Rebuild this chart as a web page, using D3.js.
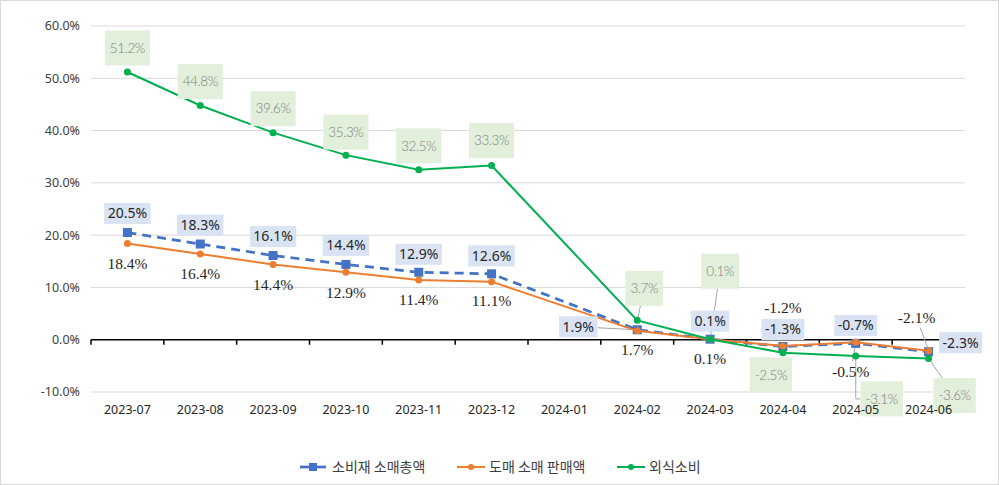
<!DOCTYPE html>
<html><head><meta charset="utf-8">
<script src="https://cdn.jsdelivr.net/npm/d3@7"></script>
<style>
html,body{margin:0;padding:0;background:#fff;}
svg{display:block;}
</style></head>
<body>
<svg id="chart" width="999" height="485"></svg>
<script>
// ---- data ----
const categories = ['2023-07','2023-08','2023-09','2023-10','2023-11','2023-12','2024-01','2024-02','2024-03','2024-04','2024-05','2024-06'];
const retailValues = [20.5,18.3,16.1,14.4,12.9,12.6,null,1.9,0.1,-1.3,-0.7,-2.3];      // 소비재 소매총액
const wholesaleValues = [18.4,16.4,14.4,12.9,11.4,11.1,null,1.7,0.1,-1.2,-0.5,-2.1];   // 도매 소매 판매액
const diningValues = [51.2,44.8,39.6,35.3,32.5,33.3,null,3.7,0.1,-2.5,-3.1,-3.6];      // 외식소비
const seriesNames = ['소비재 소매총액','도매 소매 판매액','외식소비'];
const yTicks = [-10,0,10,20,30,40,50,60];

// ---- label placement (layout only) ----
const retailLabelOffsets = [[0,-19],[0,-19],[0,-19],[0,-19],[0,-18],[0,-18],null,[-59,-3],[0,-18],[0,-17],[0,-18],[32,-9]];
const wholesaleLabelOffsets = [[0,20],[0,20],[0,20],[0,20],[0,19],[0,19],null,[0,19],[0,19],[0,-38],[-5,29],[-12,-33]];
const diningLabelOffsets = [[0,-24],[0,-24],[0,-24],[0,-23],[0,-24],[0,-25],null,[7,-32],[10,-68],[-12,22],[26,43],[26,37]];
const retailLeaders = [7];
const wholesaleLeaders = [10,11];
const diningLeaders = [7,8,10,11];
const elbowLeaders = {dining:[10]};

const svg = d3.select('#chart');
const W = 999, H = 485;
const plot = {left:91, right:965, top:26, bottom:392};

svg.append('rect').attr('x',0.5).attr('y',0.5).attr('width',W-1).attr('height',H-1)
  .attr('fill','#fff').attr('stroke','#d9d9d9');

const x = d3.scaleBand().domain(categories).range([plot.left, plot.right]).padding(0);
const cx = c => x(c) + x.bandwidth()/2;
const y = d3.scaleLinear().domain([-10,60]).range([plot.bottom, plot.top]);

// gridlines
svg.append('g').selectAll('line').data(yTicks.filter(t=>t!==0)).join('line')
  .attr('x1',plot.left).attr('x2',plot.right)
  .attr('y1',d=>y(d)).attr('y2',d=>y(d))
  .attr('stroke','#d9d9d9').attr('stroke-width',1);

// y labels
svg.append('g').selectAll('text').data(yTicks).join('text')
  .attr('x',80).attr('y',d=>y(d)).attr('dy','0.35em')
  .attr('text-anchor','end')
  .attr('font-family','"Noto Sans", "Open Sans", sans-serif').attr('font-size',12.5)
  .attr('fill','#404040')
  .text(d=>d.toFixed(1)+'%');

// zero axis with ticks at band boundaries
const zeroG = svg.append('g');
zeroG.append('line').attr('x1',plot.left).attr('x2',plot.right)
  .attr('y1',y(0)).attr('y2',y(0)).attr('stroke','#000').attr('stroke-width',1.5);
const bounds = categories.map(c=>x(c)).concat([plot.right]);
zeroG.selectAll('line.tk').data(bounds).join('line').attr('class','tk')
  .attr('x1',d=>d).attr('x2',d=>d).attr('y1',y(0)).attr('y2',y(0)+5)
  .attr('stroke','#000').attr('stroke-width',1.5);

function pts(vals){
  return categories.map((c,i)=>({c, i, v: vals[i]})).filter(d=>d.v!==null);
}
const line = d3.line().x(d=>cx(d.c)).y(d=>y(d.v));
const COLORS = {retail:'#4472C4', wholesale:'#ED7D31', dining:'#00B050'};

const leaderG = svg.append('g');

// series lines
svg.append('path').datum(pts(retailValues)).attr('d',line)
  .attr('fill','none').attr('stroke',COLORS.retail).attr('stroke-width',2.75)
  .attr('stroke-dasharray','9,6');
svg.append('g').selectAll('rect').data(pts(retailValues)).join('rect')
  .attr('x',d=>cx(d.c)-4.5).attr('y',d=>y(d.v)-4.5).attr('width',9).attr('height',9)
  .attr('fill',COLORS.retail);

svg.append('path').datum(pts(wholesaleValues)).attr('d',line)
  .attr('fill','none').attr('stroke',COLORS.wholesale).attr('stroke-width',2);
svg.append('g').selectAll('circle').data(pts(wholesaleValues)).join('circle')
  .attr('cx',d=>cx(d.c)).attr('cy',d=>y(d.v)).attr('r',3.5).attr('fill',COLORS.wholesale);

svg.append('path').datum(pts(diningValues)).attr('d',line)
  .attr('fill','none').attr('stroke',COLORS.dining).attr('stroke-width',2);
svg.append('g').selectAll('circle').data(pts(diningValues)).join('circle')
  .attr('cx',d=>cx(d.c)).attr('cy',d=>y(d.v)).attr('r',3.5).attr('fill',COLORS.dining);

// labels
function labels(vals, offsets, leaders, elbows, opt){
  const g = svg.append('g');
  pts(vals).forEach(d=>{
    const off = offsets[d.i];
    const px = cx(d.c), py = y(d.v);
    const lx = px+off[0], ly = py+off[1];
    const rect = opt.fill ? g.append('rect') : null;
    const t = g.append('text').attr('x',lx).attr('y',ly).attr('dy','0.35em').attr('text-anchor','middle')
      .attr('font-family',opt.font).attr('font-size',opt.size).attr('font-weight',opt.weight||'normal')
      .attr('fill',opt.color).attr('letter-spacing',opt.ls||0)
      .text(d.v.toFixed(1)+'%');
    const tw = t.node().getComputedTextLength();
    const bw = tw + opt.padX*2, bh = opt.h;
    if (rect) rect.attr('x',lx-bw/2).attr('y',ly-bh/2).attr('width',bw).attr('height',bh).attr('fill',opt.fill);
    if (leaders.includes(d.i)) {
      const hw = bw/2, hh = bh/2;
      if (elbows && elbows.includes(d.i)) {
        leaderG.append('path').attr('d',`M${px},${py}V${ly}H${lx-hw}`)
          .attr('fill','none').attr('stroke','#a6a6a6').attr('stroke-width',1);
      } else {
        const dx = px-lx, dy = py-ly;
        const k = Math.min(dx!==0?hw/Math.abs(dx):Infinity, dy!==0?hh/Math.abs(dy):Infinity);
        if (k<1) leaderG.append('line').attr('x1',lx+dx*k).attr('y1',ly+dy*k).attr('x2',px).attr('y2',py)
          .attr('stroke','#a6a6a6').attr('stroke-width',1);
      }
    }
  });
}
labels(diningValues, diningLabelOffsets, diningLeaders, elbowLeaders.dining,
  {padX:5,h:35,fill:'#e2efda',font:'Lato, "Noto Sans", sans-serif',size:13.5,weight:300,color:'#7f7f7f',ls:-0.4});
labels(retailValues, retailLabelOffsets, retailLeaders, null,
  {padX:3.5,h:21,fill:'#dae3f3',font:'"Noto Sans", "Open Sans", sans-serif',size:14,color:'#262626'});
labels(wholesaleValues, wholesaleLabelOffsets, wholesaleLeaders, null,
  {padX:2,h:20,fill:null,font:'"Liberation Serif", "Times New Roman", serif',size:15.5,color:'#262626'});

// x labels (drawn on top)
svg.append('g').selectAll('text').data(categories).join('text')
  .attr('x',d=>cx(d)).attr('y',410).attr('dy','0.35em')
  .attr('text-anchor','middle')
  .attr('font-family','"Noto Sans", "Open Sans", sans-serif').attr('font-size',12.5)
  .attr('fill','#262626')
  .text(d=>d);

// legend
const legend = [
  {name:seriesNames[0], color:COLORS.retail, x1:300, x2:326, tx:332, marker:'sq'},
  {name:seriesNames[1], color:COLORS.wholesale, x1:457, x2:485, tx:489, marker:'c'},
  {name:seriesNames[2], color:COLORS.dining, x1:617, x2:645, tx:649, marker:'c'}
];
const legY = 467;
const lg = svg.append('g');
legend.forEach(l=>{
  lg.append('line').attr('x1',l.x1).attr('x2',l.x2).attr('y1',legY).attr('y2',legY)
    .attr('stroke',l.color).attr('stroke-width',l.marker==='sq'?2.75:2);
  const mx=(l.x1+l.x2)/2;
  if(l.marker==='sq') lg.append('rect').attr('x',mx-4).attr('y',legY-4).attr('width',8).attr('height',8).attr('fill',l.color);
  else lg.append('circle').attr('cx',mx).attr('cy',legY).attr('r',3).attr('fill',l.color);
  lg.append('text').attr('x',l.tx).attr('y',legY).attr('dy','0.35em')
    .attr('font-family','"Noto Sans CJK KR", "Noto Sans", sans-serif').attr('font-size',14)
    .attr('fill','#404040').text(l.name);
});
</script>
</body></html>
